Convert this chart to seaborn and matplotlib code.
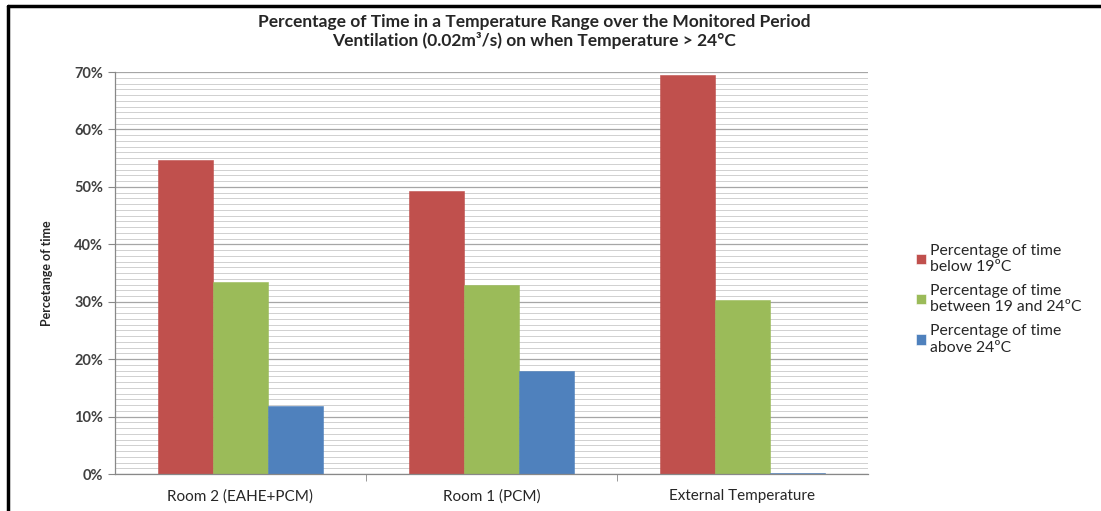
import pandas as pd
import seaborn as sns
import matplotlib.pyplot as plt
from matplotlib.lines import Line2D
from matplotlib.ticker import MultipleLocator, PercentFormatter

# Values (percent of monitored time)
locations = ['Room 2 (EAHE+PCM)', 'Room 1 (PCM)', 'External Temperature']
series = ['Percentage of time\nbelow 19ºC',
          'Percentage of time\nbetween 19 and 24ºC',
          'Percentage of time\nabove 24ºC']
below_19 = [54.7, 49.2, 69.5]
between_19_24 = [33.5, 32.9, 30.3]
above_24 = [11.8, 17.9, 0.2]
colors = ['#C0504D', '#9BBB59', '#4F81BD']

rows = []
for s, vals in zip(series, [below_19, between_19_24, above_24]):
    for loc, v in zip(locations, vals):
        rows.append({'Location': loc, 'Series': s, 'Value': v})
data = pd.DataFrame(rows)

sns.set_style('white')
plt.rcParams['font.family'] = ['Lato', 'DejaVu Sans']

fig = plt.figure(figsize=(11.01, 5.11), dpi=100)
ax = fig.add_axes([0.1045, 0.0724, 0.6835, 0.7866])

sns.barplot(data=data, x='Location', y='Value', hue='Series', order=locations,
            hue_order=series, palette=colors, width=0.657, gap=0,
            saturation=1, linewidth=0.4, ax=ax)
for patch, c in zip(ax.patches, [c for c in colors for _ in locations]):
    patch.set_edgecolor(c)

ax.set_ylim(0, 70)
ax.set_xlim(-0.5, 2.5)
ax.yaxis.set_major_locator(MultipleLocator(10))
ax.yaxis.set_minor_locator(MultipleLocator(1))
ax.yaxis.set_major_formatter(PercentFormatter(decimals=0))
ax.grid(which='major', axis='y', color='#a6a6a6', linewidth=0.9)
ax.grid(which='minor', axis='y', color='#d0d0d0', linewidth=0.7)
ax.set_axisbelow(True)

ax.set_xticks([0.5, 1.5], minor=True)
ax.set_xticks([0, 1, 2])
ax.tick_params(axis='x', which='major', length=0, pad=11, labelsize=11, labelcolor='#262626')
ax.tick_params(axis='x', which='minor', length=5, color='#888888', bottom=True)
ax.tick_params(axis='y', which='major', length=5, color='#888888', left=True,
               labelsize=10.5, labelcolor='#404040')
ax.tick_params(axis='y', which='minor', length=0)
for lab in ax.get_yticklabels():
    lab.set_fontweight('bold')

for side in ['top', 'right']:
    ax.spines[side].set_visible(False)
for side in ['left', 'bottom']:
    ax.spines[side].set_color('#888888')
    ax.spines[side].set_linewidth(0.9)

ax.set_xlabel('')
ax.set_ylabel('Percetange of time', fontsize=9, fontweight='bold', labelpad=15)

fig.suptitle('Percentage of Time in a Temperature Range over the Monitored Period\n'
             'Ventilation (0.02m³/s) on when Temperature > 24°C',
             x=0.485, y=0.972, fontsize=12.5, fontweight='bold', linespacing=1.15)

ax.legend(loc='center left', bbox_to_anchor=(1.045, 0.435), frameon=False,
          fontsize=11.3, handlelength=0.65, handleheight=0.65, handletextpad=0.3,
          labelspacing=0.65)

# Black frame lines along the top and left edges of the picture
fig.add_artist(Line2D([0.007, 1.0], [0.988, 0.988], color='black', linewidth=2.5,
                      transform=fig.transFigure))
fig.add_artist(Line2D([0.007, 0.007], [0.0, 0.988], color='black', linewidth=2.5,
                      transform=fig.transFigure))

fig.savefig('out.png', dpi=100)
